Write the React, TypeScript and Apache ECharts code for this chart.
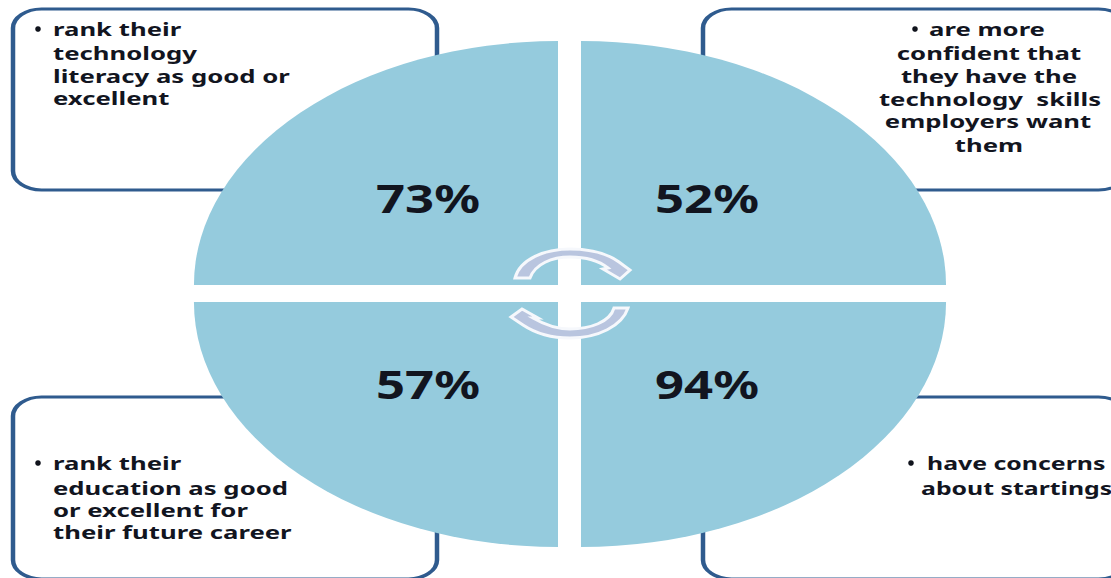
import React, { useEffect, useRef } from "react";
import * as echarts from "echarts";

// Headline percentages, in quadrant order: top-left, top-right, bottom-right, bottom-left
const percentages = [73, 52, 94, 57];

const topLeftLines = ["rank their", "technology", "literacy as good or", "excellent"];
const topRightLines = ["are more", "confident that", "they have the", "technology  skills", "employers want", "them"];
const bottomLeftLines = ["rank their", "education as good", "or excellent for", "their future career"];
const bottomRightLines = ["have concerns", "about startings"];

const BLUE = "#95cbdd";
const BORDER = "#2f5b8e";
const INK = "#12151f";
const FONT = '"Noto Sans", sans-serif';

echarts.graphic.registerShape(
  "turnArrowTop",
  echarts.graphic.extendPath(
    "M515 278C520 259 545 249 570 249C590 249 608 254 619 262L630 270L620 279L603 269L608 268C598 260 585 257 570 257C552 257 535 264 530 278Z",
    {}
  )
);
echarts.graphic.registerShape(
  "turnArrowBottom",
  echarts.graphic.extendPath(
    "M614 308L628 308C622 326 598 338 570 338C550 338 535 333 523 325L511 317L522 309L538 318L533 318C545 325 558 329 570 329C590 329 610 322 614 308Z",
    {}
  )
);

type Frame = { x: number; y: number; width: number; height: number };
const frames: Frame[] = [
  { x: 13, y: 9, width: 424, height: 181 },
  { x: 703, y: 9, width: 424, height: 181 },
  { x: 13, y: 397, width: 424, height: 182 },
  { x: 703, y: 397, width: 424, height: 182 },
];
// The frames are drawn wider than tall in their strokes and corners
const FRAME_STRETCH = 1.5;

const quadrants = [
  { cx: 558, cy: 285, rx: 364, ry: 244, start: Math.PI, labelX: 428, labelY: 197 },
  { cx: 581, cy: 285, rx: 365, ry: 244, start: Math.PI * 1.5, labelX: 707, labelY: 197 },
  { cx: 581, cy: 302, rx: 365, ry: 245, start: 0, labelX: 707, labelY: 383 },
  { cx: 558, cy: 302, rx: 364, ry: 245, start: Math.PI / 2, labelX: 428, labelY: 383 },
];

const TEXT_SCALE = 1.47;
const TIGHT_TEXT_SCALE = 1.42;

function lineText(text: string, x: number, y: number, align: "left" | "center" = "left", scaleX = TEXT_SCALE) {
  return {
    type: "text",
    x,
    y,
    scaleX,
    style: {
      text,
      fill: INK,
      font: `bold 17.5px ${FONT}`,
      textAlign: align,
      textVerticalAlign: "middle",
    },
  };
}

function bullet(x: number, y: number) {
  return { type: "circle", shape: { cx: x, cy: y, r: 2.8 }, style: { fill: "#10131c" } };
}

function buildText() {
  const leftYsTop = [29, 53, 76, 98];
  const leftYsBottom = [463, 488, 510, 532];
  const rightYsTop = [29, 53, 76, 99, 121, 145];
  const rightCentres = [987, 989, 989, 990, 988, 989];
  const rightYsBottom = [463, 488];
  const rightXsBottom = [927, 921];
  return [
    bullet(38, 29),
    ...topLeftLines.map((t, i) => lineText(t, 53, leftYsTop[i])),
    bullet(915, 29),
    ...topRightLines.map((t, i) => lineText(t, rightCentres[i], rightYsTop[i], "center")),
    bullet(38, 463),
    ...bottomLeftLines.map((t, i) => lineText(t, 53, leftYsBottom[i])),
    bullet(911, 463),
    ...bottomRightLines.map((t, i) => lineText(t, rightXsBottom[i], rightYsBottom[i], "left", TIGHT_TEXT_SCALE)),
  ];
}

export default function App() {
  const ref = useRef<HTMLDivElement>(null);

  useEffect(() => {
    const chart = echarts.init(ref.current!, null, { renderer: "svg" });
    const captions = buildText();
    chart.setOption({
      animation: false,
      backgroundColor: "#ffffff",
      series: [
        {
          type: "custom",
          coordinateSystem: "none",
          z: 1,
          silent: true,
          data: frames.map((_, i) => [i]),
          renderItem: (_p: unknown, api: any) => {
            const f = frames[api.value(0)];
            return {
              type: "rect",
              x: f.x,
              scaleX: FRAME_STRETCH,
              shape: { x: 0, y: f.y, width: f.width / FRAME_STRETCH, height: f.height, r: 19 },
              style: { fill: "#ffffff", stroke: BORDER, lineWidth: 3 },
            };
          },
        },
        {
          type: "custom",
          coordinateSystem: "none",
          z: 2,
          silent: true,
          data: percentages.map((v, i) => [i, v]),
          renderItem: (_p: unknown, api: any) => {
            const q = quadrants[api.value(0)];
            return {
              type: "group",
              children: [
                {
                  type: "sector",
                  x: q.cx,
                  y: q.cy,
                  scaleX: q.rx / q.ry,
                  shape: { cx: 0, cy: 0, r0: 0, r: q.ry, startAngle: q.start, endAngle: q.start + Math.PI / 2 },
                  style: { fill: BLUE },
                },
                {
                  type: "text",
                  x: q.labelX,
                  y: q.labelY,
                  scaleX: 1.27,
                  style: {
                    text: `${api.value(1)}%`,
                    fill: INK,
                    font: `bold 40px ${FONT}`,
                    textAlign: "center",
                    textVerticalAlign: "middle",
                  },
                },
              ],
            };
          },
        },
        {
          type: "custom",
          coordinateSystem: "none",
          z: 3,
          silent: true,
          data: [[0], [1]],
          renderItem: (_p: unknown, api: any) => ({
            type: api.value(0) === 0 ? "turnArrowTop" : "turnArrowBottom",
            style: { fill: "#b9c5df", stroke: "#f6f8fc", lineWidth: 3 },
          }),
        },
        {
          type: "custom",
          coordinateSystem: "none",
          z: 4,
          silent: true,
          data: captions.map((_, i) => [i]),
          renderItem: (_p: unknown, api: any) => captions[api.value(0)],
        },
      ],
    });
    return () => chart.dispose();
  }, []);

  return <div ref={ref} style={{ position: "fixed", left: 0, top: 0, width: 1111, height: 578 }} />;
}
